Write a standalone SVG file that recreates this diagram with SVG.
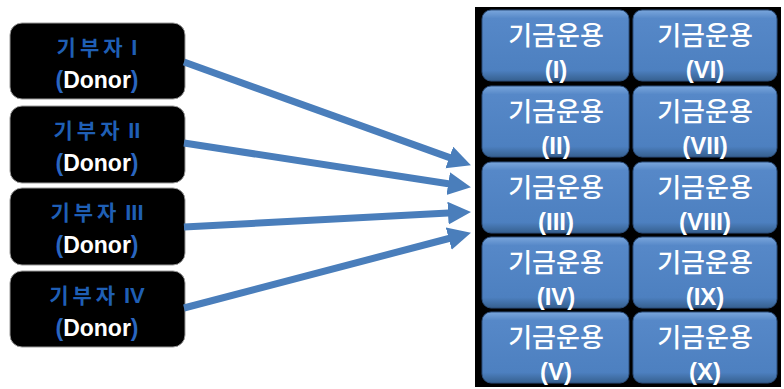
<svg xmlns="http://www.w3.org/2000/svg" width="784" height="389" viewBox="0 0 784 389">
<style>
.donor{fill:#000;stroke:#9a9a9a;stroke-width:1}
.dk{font-family:"Noto Sans CJK KR","Liberation Sans",sans-serif;font-weight:bold;font-size:21px;fill:#1f5fb5;text-anchor:middle}
.ks{letter-spacing:4px}
.rn{font-family:"Liberation Sans",Arial,sans-serif;font-size:22px}
.dn{font-family:"Liberation Sans",Arial,sans-serif;font-weight:bold;font-size:23px;fill:#fff;text-anchor:middle}
.par{fill:#2a66c0}
.btn{fill:url(#bg);stroke:#2d4f7c;stroke-width:1}
.bk{font-family:"Noto Sans CJK KR","Liberation Sans",sans-serif;font-size:26px;font-weight:500;fill:#fff;text-anchor:middle}
.bn{font-family:"Liberation Sans",Arial,sans-serif;font-weight:bold;font-size:24px;fill:#fff;text-anchor:middle}
.conn{stroke:#4a7ebb;stroke-width:7;fill:none;marker-end:url(#ah)}
</style>
<defs>
<linearGradient id="bg" x1="0" y1="0" x2="0" y2="1">
<stop offset="0" stop-color="#7aa6dc"/>
<stop offset="0.12" stop-color="#5688c8"/>
<stop offset="0.85" stop-color="#4d80c0"/>
<stop offset="1" stop-color="#36608f"/>
</linearGradient>
<marker id="ah" markerUnits="userSpaceOnUse" markerWidth="24" markerHeight="24" refX="10" refY="11.5" orient="auto">
<path d="M0,0 L23,11.5 L0,23 z" fill="#4a7ebb"/>
</marker>
</defs>
<rect width="784" height="389" fill="#fff"/>
<g id="donor1"><rect class="donor" x="10" y="23" width="175" height="76" rx="12"/><text class="dk" x="97" y="55"><tspan class="ks">기부자</tspan> <tspan class="rn">I</tspan></text><text class="dn" x="97" y="88"><tspan class="par">(</tspan>Donor<tspan class="par">)</tspan></text></g>
<g id="donor2"><rect class="donor" x="10" y="106" width="175" height="77" rx="12"/><text class="dk" x="97" y="138"><tspan class="ks">기부자</tspan> <tspan class="rn">II</tspan></text><text class="dn" x="97" y="171"><tspan class="par">(</tspan>Donor<tspan class="par">)</tspan></text></g>
<g id="donor3"><rect class="donor" x="10" y="188" width="175" height="77" rx="12"/><text class="dk" x="97" y="220"><tspan class="ks">기부자</tspan> <tspan class="rn">III</tspan></text><text class="dn" x="97" y="253"><tspan class="par">(</tspan>Donor<tspan class="par">)</tspan></text></g>
<g id="donor4"><rect class="donor" x="10" y="271" width="175" height="76" rx="12"/><text class="dk" x="97" y="303"><tspan class="ks">기부자</tspan> <tspan class="rn">IV</tspan></text><text class="dn" x="97" y="336"><tspan class="par">(</tspan>Donor<tspan class="par">)</tspan></text></g>
<g id="panel"><rect x="475" y="7" width="306" height="380" fill="#000"/></g>
<g id="f1"><rect class="btn" x="482" y="10" width="147" height="71" rx="9"/><text class="bk" x="556" y="45">기금운용</text><text class="bn" x="556" y="78">(I)</text></g>
<g id="f2"><rect class="btn" x="482" y="86" width="147" height="71" rx="9"/><text class="bk" x="556" y="121">기금운용</text><text class="bn" x="556" y="154">(II)</text></g>
<g id="f3"><rect class="btn" x="482" y="162" width="147" height="71" rx="9"/><text class="bk" x="556" y="197">기금운용</text><text class="bn" x="556" y="230">(III)</text></g>
<g id="f4"><rect class="btn" x="482" y="237" width="147" height="71" rx="9"/><text class="bk" x="556" y="272">기금운용</text><text class="bn" x="556" y="305">(IV)</text></g>
<g id="f5"><rect class="btn" x="482" y="312" width="147" height="71" rx="9"/><text class="bk" x="556" y="347">기금운용</text><text class="bn" x="556" y="380">(V)</text></g>
<g id="f6"><rect class="btn" x="633" y="10" width="144" height="71" rx="9"/><text class="bk" x="705" y="45">기금운용</text><text class="bn" x="705" y="78">(VI)</text></g>
<g id="f7"><rect class="btn" x="633" y="86" width="144" height="71" rx="9"/><text class="bk" x="705" y="121">기금운용</text><text class="bn" x="705" y="154">(VII)</text></g>
<g id="f8"><rect class="btn" x="633" y="162" width="144" height="71" rx="9"/><text class="bk" x="705" y="197">기금운용</text><text class="bn" x="705" y="230">(VIII)</text></g>
<g id="f9"><rect class="btn" x="633" y="237" width="144" height="71" rx="9"/><text class="bk" x="705" y="272">기금운용</text><text class="bn" x="705" y="305">(IX)</text></g>
<g id="f10"><rect class="btn" x="633" y="312" width="144" height="71" rx="9"/><text class="bk" x="705" y="347">기금운용</text><text class="bn" x="705" y="380">(X)</text></g>
<g id="connectors">
<line class="conn" x1="184" y1="62" x2="458.7" y2="160.9"/>
<line class="conn" x1="184" y1="143" x2="458.1" y2="185.2"/>
<line class="conn" x1="184" y1="227" x2="458.0" y2="212.6"/>
<line class="conn" x1="184" y1="308" x2="458.4" y2="236.0"/>
</g>
</svg>
